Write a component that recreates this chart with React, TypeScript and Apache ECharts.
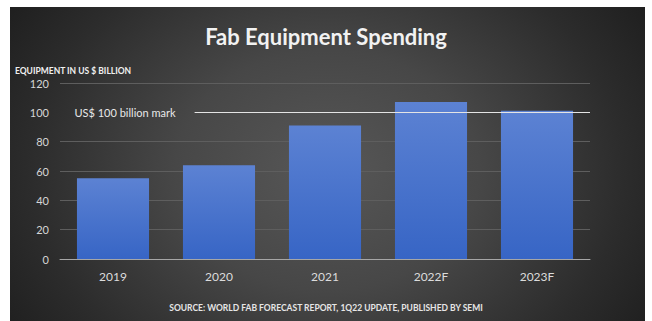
import React, { useEffect, useRef } from "react";
import * as echarts from "echarts";

const categories = ["2019", "2020", "2021", "2022F", "2023F"];
const spending = [55, 64, 91, 107, 101];
const yTicks = [0, 20, 40, 60, 80, 100, 120];
const markValue = 100;
const markLabel = "US$ 100 billion mark";
const titleText = "Fab Equipment Spending";
const yAxisTitle = "EQUIPMENT IN US $ BILLION";
const sourceText = "SOURCE: WORLD FAB FORECAST REPORT, 1Q22 UPDATE, PUBLISHED BY SEMI";

const FONT = "Lato, 'Open Sans', sans-serif";

export default function App() {
  const ref = useRef<HTMLDivElement>(null);
  useEffect(() => {
    if (!ref.current) return;
    const chart = echarts.init(ref.current, undefined, { renderer: "svg" });
    const gridColors = yTicks.map((t) => (t === markValue ? "transparent" : "#5e5e5e"));
    chart.setOption({
      animation: false,
      backgroundColor: "transparent",
      textStyle: { fontFamily: FONT },
      title: [
        {
          text: titleText,
          left: "center",
          top: 20,
          textStyle: { color: "#f2f2f2", fontSize: 22, fontWeight: "bold", fontFamily: FONT },
        },
        {
          text: yAxisTitle,
          left: 15,
          top: 66,
          padding: 0,
          textStyle: { color: "#f0f0f0", fontSize: 8.5, fontWeight: "bold", fontFamily: FONT },
        },
        {
          text: sourceText,
          left: "center",
          top: 303,
          padding: 0,
          textStyle: { color: "#e6e6e6", fontSize: 8.5, fontWeight: "bold", fontFamily: FONT },
        },
      ],
      grid: { left: 60, right: 62, top: 83, bottom: 62, containLabel: false },
      xAxis: [
        {
          type: "category",
          data: categories,
          axisLine: { show: true, lineStyle: { color: "#a6a6a6", width: 1 } },
          axisTick: { show: false },
          axisLabel: { color: "#dcdcdc", fontSize: 12, margin: 11, fontFamily: FONT },
        },
        { type: "value", min: 0, max: 5, show: false },
      ],
      yAxis: {
        type: "value",
        min: 0,
        max: 120,
        interval: 20,
        axisLine: { show: false },
        axisTick: { show: false },
        axisLabel: { color: "#d6d6d6", fontSize: 11, margin: 11, fontFamily: FONT },
        splitLine: { show: true, lineStyle: { color: gridColors, width: 1 } },
      },
      series: [
        {
          type: "bar",
          data: spending,
          barWidth: "68%",
          itemStyle: {
            color: {
              type: "linear",
              x: 0,
              y: 0,
              x2: 0,
              y2: 1,
              colorStops: [
                { offset: 0, color: "#5c82d3" },
                { offset: 1, color: "#3765c5" },
              ],
            },
          },
          z: 3,
        },
        {
          type: "line",
          xAxisIndex: 1,
          data: [],
          markLine: {
            silent: true,
            symbol: "none",
            lineStyle: { color: "#e4e4e4", width: 1, type: "solid" },
            label: {
              show: true,
              position: "start",
              distance: 19,
              formatter: markLabel,
              color: "#e8e8e8",
              fontSize: 11,
              fontFamily: FONT,
            },
            data: [[{ coord: [1.27, markValue] }, { coord: [5, markValue] }]],
          },
        },
      ],
    });
    return () => chart.dispose();
  }, []);

  return (
    <div style={{ position: "fixed", left: 0, top: 0, width: 652, height: 321, background: "#ffffff" }}>
      <div
        style={{
          position: "absolute",
          left: 10,
          top: 7,
          width: 635,
          height: 314,
          background:
            "radial-gradient(ellipse 380px 300px at 50% 52%, #575757 0%, #474747 40%, #2c2c2c 78%, #1f1f1f 100%)",
        }}
      />
      <div ref={ref} style={{ position: "absolute", left: 0, top: 0, width: 652, height: 321 }} />
    </div>
  );
}
